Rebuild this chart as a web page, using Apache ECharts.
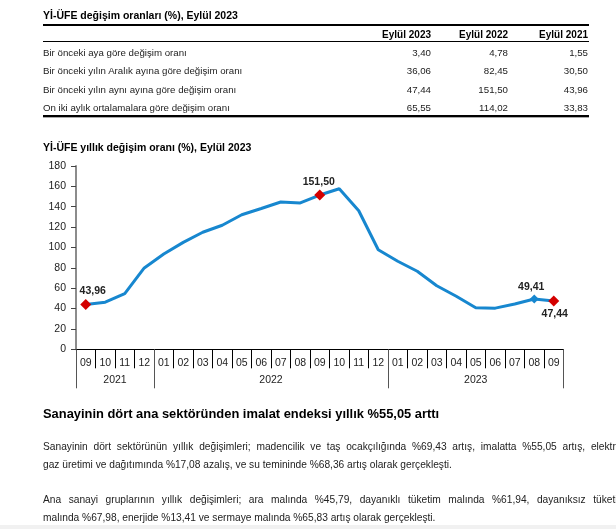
<!DOCTYPE html>
<html>
<head>
<meta charset="utf-8">
<script src="https://cdn.jsdelivr.net/npm/echarts@6/dist/echarts.min.js"></script>
<style>
html,body{margin:0;padding:0;width:616px;height:529px;overflow:hidden;background:#fff;font-family:"Liberation Sans",Arial,sans-serif;color:#111;}
#chart{position:absolute;left:0;top:0;width:616px;height:529px;}
.abs{position:absolute;white-space:nowrap;}
.hl{position:absolute;left:43px;width:546px;background:#000;}
.ttl{font-weight:bold;font-size:10.5px;line-height:14px;color:#000;}
.hdr{font-weight:bold;font-size:10px;line-height:12px;color:#000;}
.cell{font-size:9.7px;line-height:12px;color:#222;}
.r{text-align:right;}
.ph{font-weight:bold;font-size:12.9px;line-height:16px;color:#000;left:43px;}
.pl{left:43px;width:583px;font-size:10.2px;line-height:14px;color:#222;text-align:justify;}
.pl.j{text-align-last:justify;}
#strip{position:absolute;left:0;top:525px;width:616px;height:4px;background:#f1f1f1;}
</style>
</head>
<body>
<div id="chart"></div>
<div id="tbl"></div>
<div id="txt"></div>
<div id="strip"></div>
<script>
// ---------- table data ----------
const tableTitle = 'Yİ-ÜFE değişim oranları (%), Eylül 2023';
const tableColumns = ['Eylül 2023', 'Eylül 2022', 'Eylül 2021'];
const tableRowLabels = [
  'Bir önceki aya göre değişim oranı',
  'Bir önceki yılın Aralık ayına göre değişim oranı',
  'Bir önceki yılın aynı ayına göre değişim oranı',
  'On iki aylık ortalamalara göre değişim oranı'
];
const colSep2023 = [3.40, 36.06, 47.44, 65.55];
const colSep2022 = [4.78, 82.45, 151.50, 114.02];
const colSep2021 = [1.55, 30.50, 43.96, 33.83];

// ---------- chart data ----------
const chartTitle = 'Yİ-ÜFE yıllık değişim oranı (%), Eylül 2023';
const monthLabels = ['09','10','11','12','01','02','03','04','05','06','07','08','09','10','11','12','01','02','03','04','05','06','07','08','09'];
const yearLabels = ['2021', '2022', '2023'];
const yearSpans = [4, 12, 9];
const yoyValues = [43.96, 46.31, 54.62, 79.89, 93.53, 105.01, 114.97, 121.82, 132.16, 138.31, 144.61, 143.75, 151.50, 157.69, 136.02, 97.72, 86.46, 76.61, 62.45, 52.11, 40.76, 40.42, 44.50, 49.41, 47.44];
const redPoints = [0, 12, 24];
const bluePoints = [23];
const yTicks = [0, 20, 40, 60, 80, 100, 120, 140, 160, 180];

// ---------- text ----------
const textHeading = 'Sanayinin dört ana sektöründen imalat endeksi yıllık %55,05 arttı';
const para1 = ['Sanayinin dört sektörünün yıllık değişimleri; madencilik ve taş ocakçılığında %69,43 artış, imalatta %55,05 artış, elektrik,',
               'gaz üretimi ve dağıtımında %17,08 azalış, ve su temininde %68,36 artış olarak gerçekleşti.'];
const para2 = ['Ana sanayi gruplarının yıllık değişimleri; ara malında %45,79, dayanıklı tüketim malında %61,94, dayanıksız tüketim',
               'malında %67,98, enerjide %13,41 ve sermaye malında %65,83 artış olarak gerçekleşti.'];

const fmt = v => v.toFixed(2).replace('.', ',');

// ---------- build table & text ----------
(function(){
  const t = document.getElementById('tbl');
  let h = '';
  h += '<div class="abs ttl" style="left:43px;top:8px;">' + tableTitle + '</div>';
  h += '<div class="hl" style="top:24px;height:2px;"></div>';
  const rights = [431, 508, 588];
  tableColumns.forEach((c, k) => {
    h += '<div class="abs hdr r" style="right:' + (616 - rights[k]) + 'px;top:28.5px;">' + c + '</div>';
  });
  h += '<div class="hl" style="top:41px;height:1px;"></div>';
  const cols = [colSep2023, colSep2022, colSep2021];
  tableRowLabels.forEach((lab, i) => {
    const cy = 52.9 + i * 18.5;
    const top = (cy - 6).toFixed(1);
    h += '<div class="abs cell" style="left:43px;top:' + top + 'px;">' + lab + '</div>';
    cols.forEach((col, k) => {
      h += '<div class="abs cell r" style="right:' + (616 - rights[k]) + 'px;top:' + top + 'px;">' + fmt(col[i]) + '</div>';
    });
  });
  h += '<div class="hl" style="top:115px;height:2px;"></div>';
  h += '<div class="hl" style="top:117px;height:1px;background:#aaa;"></div>';
  t.innerHTML = h;

  const x = document.getElementById('txt');
  let s = '';
  s += '<div class="abs ph" style="top:406px;">' + textHeading + '</div>';
  const tops = [440, 458, 493, 511];
  const lines = [para1[0], para1[1], para2[0], para2[1]];
  lines.forEach((ln, i) => {
    s += '<div class="abs pl' + (i % 2 === 0 ? ' j' : '') + '" style="top:' + tops[i] + 'px;">' + ln + '</div>';
  });
  x.innerHTML = s;
})();

// ---------- chart ----------
const FONT = '"Liberation Sans", Arial, sans-serif';
const chart = echarts.init(document.getElementById('chart'), null, {renderer: 'canvas'});

const yearLabelAt = {};
const yearBoundaries = {};
let st = 0;
yearLabels.forEach((y, k) => {
  const n = yearSpans[k];
  yearBoundaries[st] = true;
  if (n % 2 === 0) yearLabelAt[st + n / 2 - 1] = {t: y, shift: true};
  else yearLabelAt[st + (n - 1) / 2] = {t: y, shift: false};
  st += n;
});

const labelSpecs = {
  0: {position: 'top', offset: [7, 0]},
  12: {position: 'top', offset: [-1, 0]},
  23: {position: 'top', offset: [-3, 0]},
  24: {position: 'bottom', offset: [1, 0]}
};

const seriesData = yoyValues.map((v, i) => {
  const item = {value: v};
  if (redPoints.includes(i)) {
    item.symbol = 'diamond'; item.symbolSize = 11; item.itemStyle = {color: '#d40000'};
  } else if (bluePoints.includes(i)) {
    item.symbol = 'diamond'; item.symbolSize = 9; item.itemStyle = {color: '#1787cf'};
  } else {
    item.symbol = 'none';
  }
  if (labelSpecs[i]) {
    item.label = Object.assign({show: true}, labelSpecs[i]);
  }
  return item;
});

const gridLeft = 76, gridRight = 52.5;
const band = (616 - gridLeft - gridRight) / monthLabels.length;

chart.setOption({
  animation: false,
  title: {
    text: chartTitle, left: 38, top: 138,
    textStyle: {fontFamily: FONT, fontSize: 10.5, fontWeight: 'bold', color: '#000'}
  },
  grid: {left: gridLeft, right: gridRight, top: 166, bottom: 179.7, containLabel: false},
  xAxis: [{
    type: 'category', data: monthLabels, position: 'bottom', boundaryGap: true,
    axisLine: {show: true, lineStyle: {color: '#000', width: 1}},
    axisTick: {show: true, interval: 0, length: 19, lineStyle: {color: '#000', width: 1}},
    axisLabel: {interval: 0, margin: 8, fontFamily: FONT, fontSize: 10.5, color: '#222'},
    splitLine: {show: false}
  }, {
    type: 'category', data: monthLabels, position: 'bottom', offset: 0, boundaryGap: true,
    axisLine: {show: false},
    axisTick: {show: true, length: 39, interval: (i) => !!yearBoundaries[i], lineStyle: {color: '#555', width: 1}},
    axisLabel: {
      margin: 25, fontFamily: FONT, fontSize: 10.5, color: '#222',
      interval: (i) => !!yearLabelAt[i],
      formatter: (v, i) => yearLabelAt[i] ? (yearLabelAt[i].shift ? '{s|' + yearLabelAt[i].t + '}' : '{n|' + yearLabelAt[i].t + '}') : '',
      rich: {
        s: {fontFamily: FONT, fontSize: 10.5, color: '#222', padding: [0, 0, 0, band]},
        n: {fontFamily: FONT, fontSize: 10.5, color: '#222'}
      }
    },
    splitLine: {show: false}
  }],
  yAxis: {
    type: 'value', min: yTicks[0], max: yTicks[yTicks.length - 1], interval: yTicks[1] - yTicks[0],
    axisLine: {show: true, lineStyle: {color: '#8c8c8c', width: 2}},
    axisTick: {show: true, length: 5, lineStyle: {color: '#444', width: 1}},
    axisLabel: {margin: 10, fontFamily: FONT, fontSize: 10.5, color: '#222'},
    splitLine: {show: false}
  },
  series: [{
    type: 'line', xAxisIndex: 0, data: seriesData, showAllSymbol: true,
    lineStyle: {color: '#1787cf', width: 3},
    itemStyle: {color: '#1787cf'},
    label: {distance: 2, fontFamily: FONT, fontSize: 10.5, fontWeight: 'bold', color: '#222', formatter: p => fmt(p.value)},
    emphasis: {disabled: true},
    z: 3
  }]
});
</script>
</body>
</html>
